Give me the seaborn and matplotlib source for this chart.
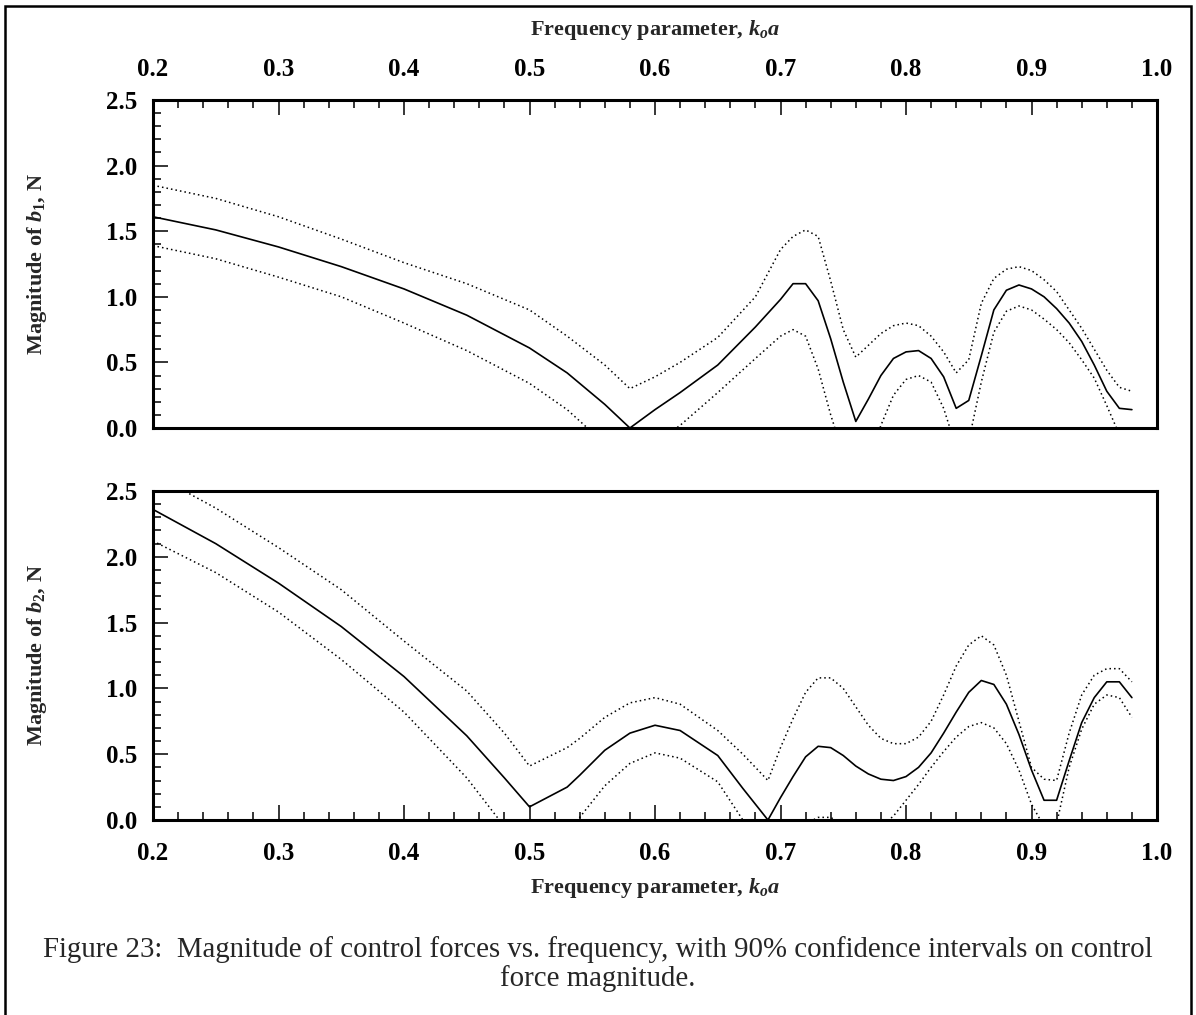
import numpy as np
import pandas as pd
import matplotlib
matplotlib.use("Agg")
import matplotlib.pyplot as plt
from matplotlib.ticker import MultipleLocator, FormatStrFormatter
from matplotlib.patches import Rectangle
from matplotlib.font_manager import FontProperties
import seaborn as sns

sns.set_theme(style="white")
plt.rcParams["font.family"] = ["Liberation Serif", "DejaVu Serif"]
plt.rcParams["mathtext.fontset"] = "custom"
plt.rcParams["mathtext.rm"] = "Liberation Serif:bold"
plt.rcParams["mathtext.it"] = "Liberation Serif:italic:bold"
plt.rcParams["mathtext.bf"] = "Liberation Serif:bold"

# ---- control force b1 vs frequency parameter ----
ka_b1 = [0.20, 0.25, 0.30, 0.35, 0.40, 0.45, 0.50, 0.53, 0.56, 0.58, 0.60, 0.62,
         0.65, 0.68, 0.70, 0.71, 0.72, 0.73, 0.74, 0.75, 0.76, 0.77, 0.78, 0.79,
         0.80, 0.81, 0.82, 0.83, 0.84, 0.85, 0.86, 0.87, 0.88, 0.89, 0.90, 0.91,
         0.92, 0.93, 0.94, 0.95, 0.96, 0.97, 0.98]
b1_mag = [1.61, 1.51, 1.38, 1.23, 1.06, 0.86, 0.61, 0.42, 0.18, 0.00, 0.14, 0.27,
          0.48, 0.77, 0.98, 1.10, 1.10, 0.97, 0.68, 0.35, 0.05, 0.22, 0.40, 0.53,
          0.58, 0.59, 0.53, 0.39, 0.15, 0.21, 0.55, 0.90, 1.05, 1.09, 1.06, 1.00,
          0.91, 0.80, 0.66, 0.48, 0.28, 0.15, 0.14]
b1_upper = [1.85, 1.75, 1.61, 1.44, 1.26, 1.10, 0.90, 0.70, 0.48, 0.30, 0.39, 0.50,
            0.69, 1.00, 1.36, 1.46, 1.51, 1.46, 1.12, 0.75, 0.54, 0.63, 0.72, 0.78,
            0.80, 0.78, 0.70, 0.58, 0.42, 0.52, 0.95, 1.14, 1.21, 1.23, 1.20, 1.13,
            1.04, 0.90, 0.76, 0.60, 0.44, 0.31, 0.28]
b1_lower = [1.39, 1.29, 1.15, 1.00, 0.80, 0.59, 0.34, 0.14, -0.12, -0.30, -0.12, 0.02,
            0.27, 0.53, 0.70, 0.75, 0.70, 0.45, 0.10, -0.20, -0.45, -0.25, 0.02, 0.25,
            0.37, 0.40, 0.35, 0.15, -0.15, -0.10, 0.35, 0.73, 0.89, 0.93, 0.90, 0.83,
            0.75, 0.65, 0.52, 0.38, 0.17, -0.05, -0.05]

# ---- control force b2 vs frequency parameter ----
ka_b2 = [0.20, 0.25, 0.30, 0.35, 0.40, 0.45, 0.48, 0.50, 0.53, 0.54, 0.56, 0.58,
         0.60, 0.62, 0.65, 0.67, 0.69, 0.70, 0.71, 0.72, 0.73, 0.74, 0.75, 0.76,
         0.77, 0.78, 0.79, 0.80, 0.81, 0.82, 0.83, 0.84, 0.85, 0.86, 0.87, 0.88,
         0.89, 0.90, 0.91, 0.92, 0.93, 0.94, 0.95, 0.96, 0.97, 0.98]
b2_mag = [2.36, 2.10, 1.80, 1.47, 1.09, 0.64, 0.32, 0.10, 0.25, 0.34, 0.53, 0.66,
          0.72, 0.68, 0.49, 0.24, 0.00, 0.17, 0.33, 0.48, 0.56, 0.55, 0.49, 0.41,
          0.35, 0.31, 0.30, 0.33, 0.40, 0.51, 0.66, 0.82, 0.97, 1.06, 1.03, 0.88,
          0.65, 0.38, 0.15, 0.15, 0.45, 0.74, 0.93, 1.05, 1.05, 0.93]
b2_upper = [2.63, 2.37, 2.07, 1.75, 1.36, 0.98, 0.66, 0.41, 0.55, 0.62, 0.78, 0.89,
            0.93, 0.88, 0.68, 0.50, 0.30, 0.55, 0.77, 0.97, 1.08, 1.08, 1.00, 0.86,
            0.72, 0.62, 0.58, 0.58, 0.63, 0.75, 0.95, 1.17, 1.33, 1.40, 1.33, 1.10,
            0.75, 0.40, 0.31, 0.30, 0.66, 0.95, 1.10, 1.15, 1.15, 1.05]
b2_lower = [2.12, 1.88, 1.58, 1.22, 0.82, 0.32, -0.05, -0.22, -0.06, 0.02, 0.26, 0.43,
            0.51, 0.47, 0.29, 0.00, -0.30, -0.22, -0.12, -0.03, 0.02, 0.02, -0.04, -0.10,
            -0.10, -0.05, 0.03, 0.15, 0.27, 0.40, 0.52, 0.63, 0.71, 0.74, 0.70, 0.58,
            0.38, 0.12, -0.05, -0.03, 0.40, 0.69, 0.88, 0.95, 0.93, 0.78]

x_ticks = [0.2, 0.3, 0.4, 0.5, 0.6, 0.7, 0.8, 0.9, 1.0]
y_ticks = [0.0, 0.5, 1.0, 1.5, 2.0, 2.5]

W, H = 1196, 1015
fig = plt.figure(figsize=(W / 100, H / 100), dpi=100)
fig.patch.set_facecolor("white")


def px_rect(left, top, right, bottom):
    return [left / W, 1 - bottom / H, (right - left) / W, (bottom - top) / H]


ax1 = fig.add_axes(px_rect(153, 100, 1157, 428))
ax2 = fig.add_axes(px_rect(153, 491, 1157, 820))

tick_fp = FontProperties(family="Liberation Serif", weight="bold", size=18)
label_font = dict(family="Liberation Serif", weight="bold", size=16)


def draw_panel(ax, ka, mag, upper, lower):
    df = pd.DataFrame({"ka": ka, "mag": mag, "upper": upper, "lower": lower})
    sns.lineplot(data=df, x="ka", y="mag", ax=ax, color="black", linewidth=1.2,
                 estimator=None, sort=False)
    for col in ("upper", "lower"):
        sns.lineplot(data=df, x="ka", y=col, ax=ax, color="black", linewidth=1.1,
                     linestyle=(0, (1, 2.0)), estimator=None, sort=False)
    ax.set_xlim(0.2, 1.0)
    ax.set_ylim(0.0, 2.5)
    ax.set_xticks(x_ticks)
    ax.set_yticks(y_ticks)
    ax.xaxis.set_minor_locator(MultipleLocator(0.02))
    ax.yaxis.set_minor_locator(MultipleLocator(0.1))
    ax.xaxis.set_major_formatter(FormatStrFormatter("%.1f"))
    ax.yaxis.set_major_formatter(FormatStrFormatter("%.1f"))
    for s in ax.spines.values():
        s.set_visible(True)
        s.set_color("black")
        s.set_linewidth(2.2)
    ax.grid(False)
    ax.set_facecolor("white")
    ax.tick_params(axis="y", which="both", direction="in", left=True, right=False,
                   colors="black", pad=11)
    ax.tick_params(axis="y", which="major", length=11, width=1.1)
    ax.tick_params(axis="y", which="minor", length=6, width=1.1)


draw_panel(ax1, ka_b1, b1_mag, b1_upper, b1_lower)
draw_panel(ax2, ka_b2, b2_mag, b2_upper, b2_lower)

xlabel = r"Frequency parameter, $k_o a$"

ax1.xaxis.tick_top()
ax1.tick_params(axis="x", which="both", direction="in", top=True, bottom=False,
                labeltop=True, labelbottom=False, colors="black", pad=14)
ax1.tick_params(axis="x", which="major", length=11, width=1.1)
ax1.tick_params(axis="x", which="minor", length=6, width=1.1)
ax1.xaxis.set_label_position("top")
ax1.set_xlabel(xlabel, fontdict=label_font)
ax1.xaxis.set_label_coords(0.5, 1 + 70 / 328)
ax1.set_ylabel(r"Magnitude of $b_1$, N", fontdict=label_font)

ax2.tick_params(axis="x", which="both", direction="in", top=False, bottom=True,
                labeltop=False, labelbottom=True, colors="black", pad=16)
ax2.tick_params(axis="x", which="major", length=11, width=1.1)
ax2.tick_params(axis="x", which="minor", length=6, width=1.1)
ax2.set_xlabel(xlabel, fontdict=label_font)
ax2.xaxis.set_label_coords(0.5, -68 / 329)
ax2.set_ylabel(r"Magnitude of $b_2$, N", fontdict=label_font)

for ax in (ax1, ax2):
    ax.xaxis.label.set_va("center")
    ax.yaxis.label.set_va("center")
    ax.yaxis.set_label_coords((37 - 153) / 1004, 0.5)
    for tick in ax.xaxis.get_major_ticks() + ax.yaxis.get_major_ticks():
        tick.label1.set_fontproperties(tick_fp)
        tick.label2.set_fontproperties(tick_fp)

# caption below the plots
fig.text(0.5, 1 - 950 / H,
         "Figure 23:  Magnitude of control forces vs. frequency, with 90% confidence intervals on control",
         ha="center", va="center", fontsize=20.8, family="Liberation Serif")
fig.text(0.5, 1 - 979 / H, "force magnitude.",
         ha="center", va="center", fontsize=20.8, family="Liberation Serif")

# outer frame around the figure block
frame = Rectangle((5 / W, -0.02), (1191 - 5) / W, 1.02 - 6 / H,
                  transform=fig.transFigure, fill=False, edgecolor="black",
                  linewidth=1.8)
fig.patches.append(frame)

fig.savefig("out.png", dpi=100, facecolor="white")
